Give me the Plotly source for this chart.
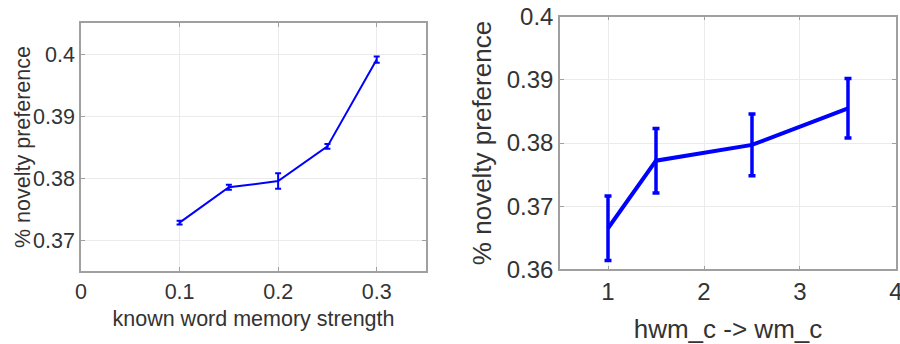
import plotly.graph_objects as go

# Left panel data
strength = [0.10, 0.15, 0.20, 0.25, 0.30]
pref_left = [0.3728, 0.3785, 0.3795, 0.3851, 0.3991]
err_left = [0.0003, 0.0004, 0.00125, 0.0004, 0.0005]

# Right panel data
hwm = [1.0, 1.5, 2.5, 3.5]
pref_right = [0.3665, 0.3772, 0.3797, 0.3855]
err_right = [0.0051, 0.0051, 0.0049, 0.0047]

left_xticks = [0, 0.1, 0.2, 0.3]
left_xticklabels = ["0", "0.1", "0.2", "0.3"]
left_yticks = [0.37, 0.38, 0.39, 0.40]
left_yticklabels = ["0.37", "0.38", "0.39", "0.4"]
right_xticks = [1, 2, 3, 4]
right_xticklabels = ["1", "2", "3", "4"]
right_yticks = [0.36, 0.37, 0.38, 0.39, 0.40]
right_yticklabels = ["0.36", "0.37", "0.38", "0.39", "0.4"]

W, H = 900, 344
BLUE = "#0000ff"
FRAME = "#a0a0a0"
GRID = "#ebebeb"
TXT = "#333333"
FONT = "Liberation Sans, Arial, sans-serif"

fig = go.Figure()
fig.add_trace(go.Scatter(
    x=strength, y=pref_left, mode="lines",
    line=dict(color=BLUE, width=2),
    error_y=dict(type="data", array=err_left, color=BLUE, thickness=2, width=3),
    xaxis="x", yaxis="y", showlegend=False, cliponaxis=False))
fig.add_trace(go.Scatter(
    x=hwm, y=pref_right, mode="lines",
    line=dict(color=BLUE, width=4),
    error_y=dict(type="data", array=err_right, color=BLUE, thickness=3.5, width=3.5),
    xaxis="x2", yaxis="y2", showlegend=False, cliponaxis=False))

def ax(**kw):
    d = dict(showline=True, linecolor=FRAME, linewidth=1.5, mirror="ticks",
             ticks="inside", ticklen=4, tickcolor=FRAME, tickwidth=1,
             showgrid=True, gridcolor=GRID, gridwidth=1, zeroline=False,
             automargin=False, ticklabeloverflow="allow",
             tickfont=dict(family=FONT, color=TXT))
    d.update(kw)
    return d

LS = 21.5
RT = 24
RS = 26
fig.update_layout(
    width=W, height=H,
    margin=dict(l=0, r=0, t=0, b=0, pad=0),
    paper_bgcolor="white", plot_bgcolor="white",
    font=dict(family=FONT, color=TXT),
    xaxis=ax(domain=[81 / W, 426 / W], range=[0, 0.35], tickvals=left_xticks,
             ticktext=left_xticklabels, anchor="y",
             tickfont=dict(family=FONT, color=TXT, size=LS),
             title=dict(text="known word memory strength",
                        font=dict(family=FONT, color=TXT, size=LS), standoff=8)),
    yaxis=ax(domain=[1 - 271 / H, 1 - 23 / H], range=[0.365, 0.405],
             tickvals=left_yticks, ticktext=left_yticklabels, anchor="x",
             tickfont=dict(family=FONT, color=TXT, size=LS)),
    xaxis2=ax(domain=[560 / W, 896 / W], range=[0.5, 4.0001], tickvals=right_xticks,
              ticktext=right_xticklabels, anchor="y2",
              tickfont=dict(family=FONT, color=TXT, size=RT),
              title=dict(text="hwm_c -> wm_c",
                         font=dict(family=FONT, color=TXT, size=RS), standoff=17)),
    yaxis2=ax(domain=[1 - 269.3 / H, 1 - 16.7 / H], range=[0.36, 0.40],
              tickvals=right_yticks, ticktext=right_yticklabels, anchor="x2",
              tickfont=dict(family=FONT, color=TXT, size=RT),
              title=dict(text="% novelty preference",
                         font=dict(family=FONT, color=TXT, size=RS), standoff=8)),
    annotations=[dict(text="% novelty preference", textangle=-90,
                      xref="paper", yref="paper", x=23 / W, y=1 - 147 / H,
                      xanchor="center", yanchor="middle", showarrow=False,
                      font=dict(family=FONT, color=TXT, size=LS))],
)

fig.write_html("out.html")
